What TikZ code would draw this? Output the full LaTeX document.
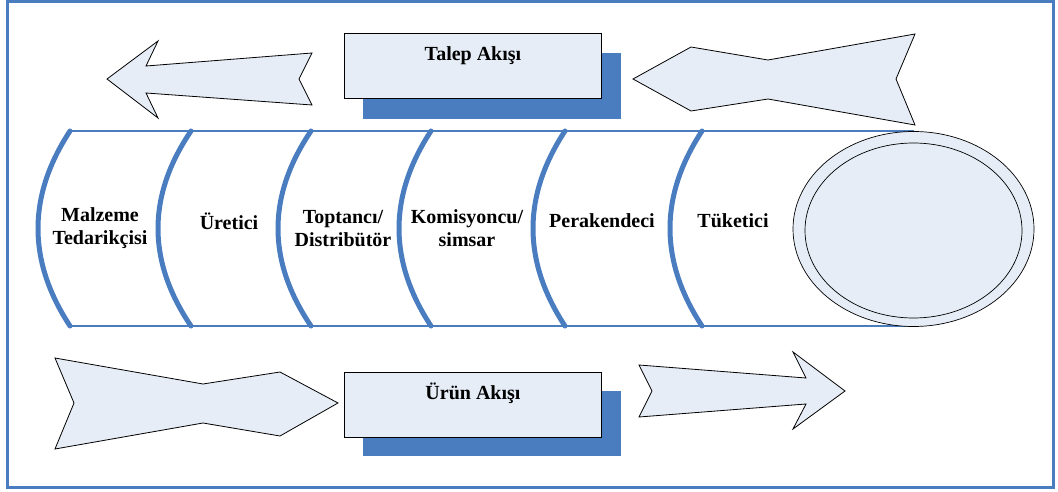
\documentclass[tikz,border=0pt]{standalone}
\usepackage{fontspec}
\setmainfont{Liberation Serif}
\begin{document}
\begin{tikzpicture}[x=1pt,y=-1pt,
  chainblue/.style={draw=frameblue},
  flowshape/.style={draw=black,line width=0.8pt,fill=paleblue,line join=miter},
  shadowbox/.style={fill=frameblue,draw=none},
  flowbox/.style={draw=black,line width=1pt,fill=paleblue},
  label/.style={font=\fontsize{20}{23}\selectfont\bfseries,align=center,inner sep=0pt},
  divider/.style={draw=frameblue,line width=5pt,line cap=round},
  rail/.style={draw=frameblue,line width=2.5pt}]
\definecolor{frameblue}{RGB}{74,124,192}
\definecolor{paleblue}{RGB}{230,237,247}
\useasboundingbox (0,0) rectangle (1058,492);
% outer frame
\draw[frameblue,line width=3pt] (7,2) rectangle (1053,487);

% demand flow arrows (top)
\draw[flowshape] (107,79) -- (158,41) -- (146,66) -- (312,53) -- (299,79)
  -- (312,105) -- (146,93) -- (158,118) -- cycle;
\draw[flowshape] (633,79) -- (691,47) -- (768,60) -- (915,34) -- (896,79)
  -- (915,125) -- (768,99) -- (691,111) -- cycle;

% demand flow box
\fill[shadowbox] (363,53) rectangle (621,119);
\node[flowbox,minimum width=257pt,minimum height=65pt] (talepbox) at (472.5,66.5) {};
\node[label] (talep) at (473,56) {Talep Akışı};

% product flow arrows (bottom)
\draw[flowshape] (55,358) -- (203,384) -- (280,372) -- (338,403) -- (280,436)
  -- (203,423) -- (55,449) -- (74,403) -- cycle;
\draw[flowshape] (639,365) -- (806,378) -- (793,352) -- (845,391) -- (793,429)
  -- (806,404) -- (639,417) -- (652,391) -- cycle;

% product flow box
\fill[shadowbox] (363,391) rectangle (621,456);
\node[flowbox,minimum width=257pt,minimum height=65pt] (urunbox) at (472.5,404.5) {};
\node[label] (urun) at (473,393) {Ürün Akışı};

% channel tube: rails
\draw[rail] (70,131) -- (914,131);
\draw[rail] (70,326) -- (915,326);

% tube end
\draw[flowshape,line width=0.7pt] (913.5,229) ellipse [x radius=120.5pt, y radius=97.5pt];
\draw[black,line width=0.7pt] (913.5,230.5) ellipse [x radius=108.5pt, y radius=87.5pt];

% curved dividers between channel members
\foreach \xt/\d in {70/32, 191/33, 311/33, 431/32, 565/32, 702/32}{
  \draw[divider] (\xt,131) .. controls ({\xt-1.333*\d},196) and ({\xt-1.333*\d},261) .. (\xt,326);
}

% channel members
\node[label] (malzeme) at (100,228.5) {Malzeme\\Tedarikçisi};
\node[label] (uretici) at (229,221) {Üretici};
\node[label] (toptanci) at (343,228.5) {Toptancı/\\Distribütör};
\node[label] (komisyoncu) at (467,228.5) {Komisyoncu/\\simsar};
\node[label] (perakendeci) at (602,221) {Perakendeci};
\node[label] (tuketici) at (733,221) {Tüketici};
\end{tikzpicture}
\end{document}
